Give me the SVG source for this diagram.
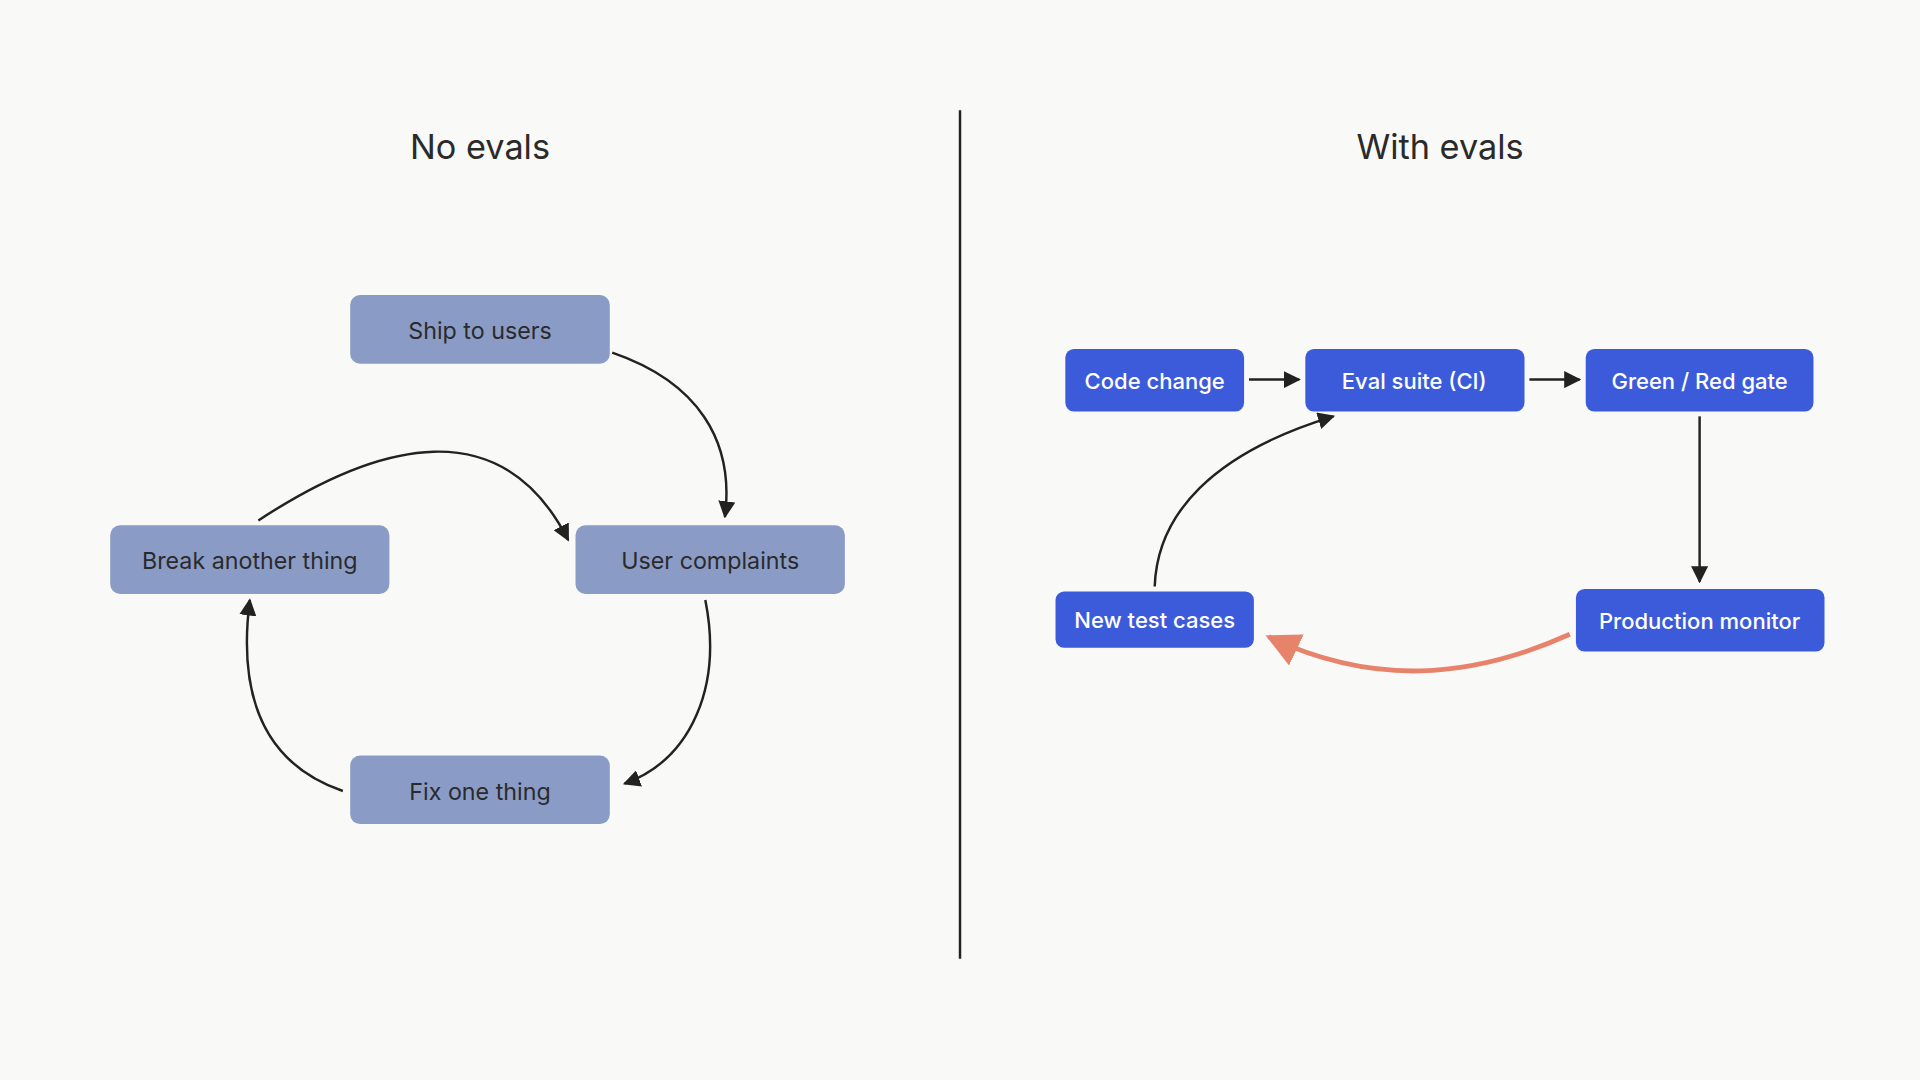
<svg xmlns="http://www.w3.org/2000/svg" width="1920" height="1080" viewBox="0 0 1920 1080">
<style>
.t{font-family:Inter,"Liberation Sans",sans-serif;text-anchor:middle;dominant-baseline:central}
.title{font-size:28px;fill:#2a2a2a}
.gn rect{fill:#8a9cc6}
.gn text{font-size:19px;fill:#2a2a2a}
.bn rect{fill:#3b5bdb}
.bn text{font-size:18px;fill:#fff;font-weight:500}
.c{fill:none;stroke:#222;stroke-width:2}
</style>
<defs>
<marker id="a" viewBox="0 0 10 10" refX="9" refY="5" markerWidth="7" markerHeight="7" orient="auto-start-reverse"><path d="M0,0L10,5L0,10z" fill="#222"/></marker>
<marker id="o" viewBox="0 0 10 10" refX="9" refY="5" markerWidth="7" markerHeight="7" orient="auto"><path d="M0,0L10,5L0,10z" fill="#e8836b"/></marker>
</defs>
<rect width="1920" height="1080" fill="#f9f9f7"/>
<g transform="scale(1.2245)">
<text class="t title" x="392" y="120">No evals</text>
<text class="t title" x="1176" y="120">With evals</text>
<line x1="784" y1="90" x2="784" y2="783" stroke="#222" stroke-width="2"/>
<g id="ship" class="gn"><rect x="286" y="241" width="212" height="56" rx="8"/><text class="t" x="392" y="270">Ship to users</text></g>
<g id="break" class="gn"><rect x="90" y="429" width="228" height="56" rx="8"/><text class="t" x="204" y="458">Break another thing</text></g>
<g id="complaints" class="gn"><rect x="470" y="429" width="220" height="56" rx="8"/><text class="t" x="580" y="458">User complaints</text></g>
<g id="fix" class="gn"><rect x="286" y="617" width="212" height="56" rx="8"/><text class="t" x="392" y="646">Fix one thing</text></g>
<g id="code" class="bn"><rect x="870" y="285" width="146" height="51" rx="7"/><text class="t" x="943" y="311">Code change</text></g>
<g id="eval" class="bn"><rect x="1066" y="285" width="179" height="51" rx="7"/><text class="t" x="1155" y="311">Eval suite (CI)</text></g>
<g id="gate" class="bn"><rect x="1295" y="285" width="186" height="51" rx="7"/><text class="t" x="1388" y="311">Green / Red gate</text></g>
<g id="prod" class="bn"><rect x="1287" y="481" width="203" height="51" rx="7"/><text class="t" x="1388" y="507">Production monitor</text></g>
<g id="newtc" class="bn"><rect x="862" y="483" width="162" height="46" rx="7"/><text class="t" x="943" y="506">New test cases</text></g>
<g id="connectors">
<path class="c" marker-end="url(#a)" d="M500,288 C570,312 600,360 592,422"/>
<path class="c" marker-end="url(#a)" d="M576,490 C590,560 565,620 510,640"/>
<path class="c" marker-end="url(#a)" d="M280,646 C210,622 195,560 204,490"/>
<path class="c" marker-end="url(#a)" d="M211,425 C310,360 410,335 464,441"/>
<path class="c" marker-end="url(#a)" d="M1020,310 L1061,310"/>
<path class="c" marker-end="url(#a)" d="M1249,310 L1290,310"/>
<path class="c" marker-end="url(#a)" d="M1388,340 L1388,475"/>
<path class="c" marker-end="url(#a)" d="M943,479 C945,420 990,370 1089,340"/>
<path fill="none" stroke="#e8836b" stroke-width="4" marker-end="url(#o)" d="M1282,518 C1200,555 1120,560 1036,520"/>
</g>
</g>
</svg>
